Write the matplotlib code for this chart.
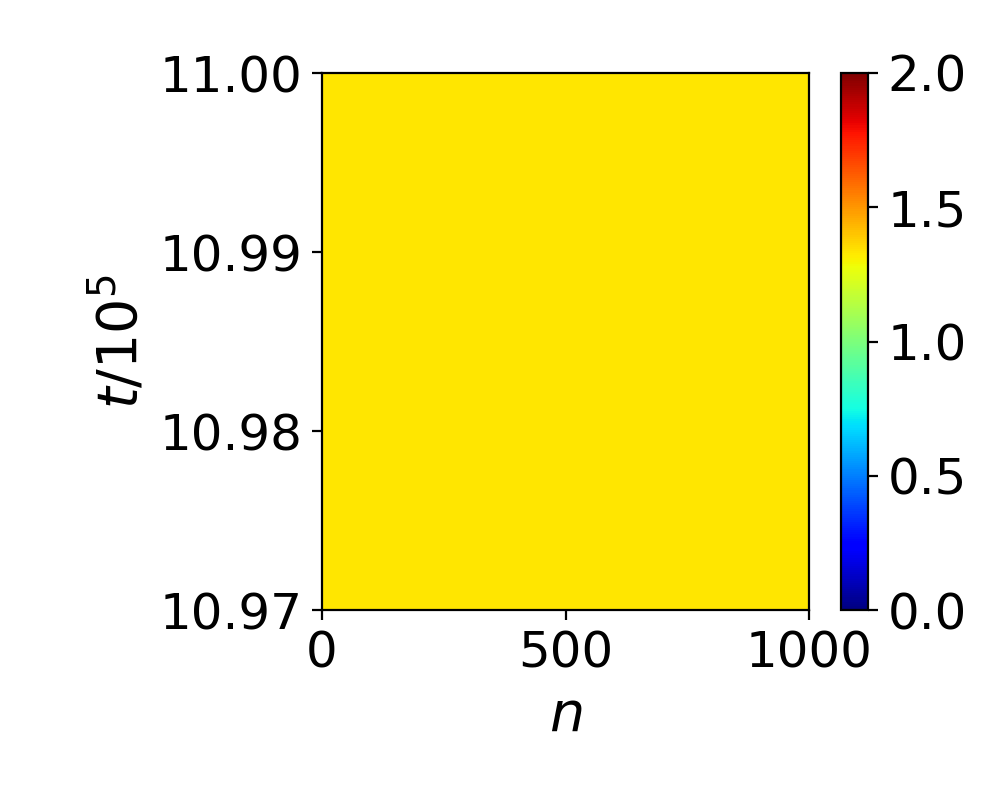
import numpy as np
import matplotlib
matplotlib.use('Agg')
from matplotlib import pyplot as plt

# grid of sites n and time t (in units of 1e5)
n = np.linspace(0, 1000, 101)
t = np.linspace(10.97, 11.00, 31)
# field is uniform over the window shown
level = 1.333
field = np.full((len(t), len(n)), level)

fig = plt.figure(figsize=(5, 4), dpi=200)
ax = fig.add_axes([0.322, 0.2375, 0.487, 0.67125])
cax = fig.add_axes([0.841, 0.2375, 0.027, 0.67125])

im = ax.pcolormesh(n, t, field, cmap='jet', vmin=0, vmax=2, shading='auto')
ax.set_xlim(0, 1000)
ax.set_ylim(10.97, 11.00)
ax.set_xticks([0, 500, 1000])
ax.set_yticks([10.97, 10.98, 10.99, 11.00])
ax.set_yticklabels(['10.97', '10.98', '10.99', '11.00'])
ax.tick_params(labelsize=18)
ax.set_xlabel(r'$n$', fontsize=20)
ax.set_ylabel(r'$t/10^5$', fontsize=20)

cb = fig.colorbar(im, cax=cax, ticks=[0, 0.5, 1.0, 1.5, 2.0])
cb.ax.tick_params(labelsize=18)

fig.savefig('out.png', dpi=200)
